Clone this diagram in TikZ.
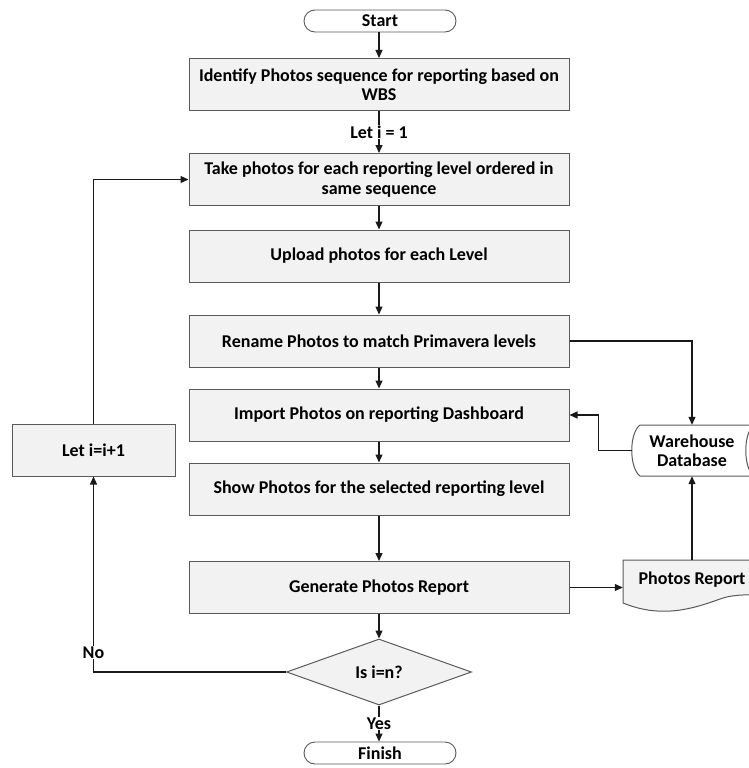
\documentclass[tikz,border=0pt]{standalone}
\usepackage{fontspec}
\setmainfont{Carlito}
\usetikzlibrary{shapes.geometric,arrows.meta}
\definecolor{boxfill}{HTML}{F2F2F2}
\definecolor{boxline}{HTML}{5A5A5A}
\tikzset{
  txt/.style={font=\fontsize{18}{19.5}\selectfont\bfseries, text=black},
  procbox/.style={txt, draw=boxline, fill=boxfill, line width=1pt, minimum width=380pt, minimum height=52pt, align=center, inner sep=2pt},
  termbox/.style={txt, draw=boxline, fill=white, line width=0.9pt, rounded corners=11pt, minimum width=152pt, minimum height=22pt, inner sep=0pt},
  decbox/.style={txt, draw=boxline, fill=boxfill, line width=1pt, shape=diamond, aspect=2.8, minimum width=185pt, minimum height=66pt, inner sep=0pt},
  arr/.style={line width=1.1pt, draw=black!90, -{Triangle[length=8pt,width=7pt]}},
  lbl/.style={txt, fill=white, inner sep=1pt},
  freetxt/.style={txt, align=center, inner sep=0pt},
}
\begin{document}
\begin{tikzpicture}[x=1pt,y=-1pt]
\useasboundingbox (0,0) rectangle (749,768);
\clip (0,0) rectangle (749,768);
% main column
\node[termbox] (start) at (380,21) {Start};
\node[procbox] (b1) at (379,84.5) {Identify Photos sequence for reporting based on\\WBS};
\node[procbox] (b2) at (379,179.5) {Take photos for each reporting level ordered in\\same sequence};
\node[procbox] (b3) at (379,256) {Upload photos for each Level};
\node[procbox] (b4) at (379,341) {Rename Photos to match Primavera levels};
\node[procbox] (b5) at (379,415) {Import Photos on reporting Dashboard};
\node[procbox] (b6) at (379,489) {Show Photos for the selected reporting level};
\node[procbox] (b7) at (379,587.5) {Generate Photos Report};
\node[decbox] (dec) at (379,672) {Is i=n?};
\node[termbox] (fin) at (380,753) {Finish};
% loop box
\node[procbox, minimum width=163pt] (inc) at (93.5,450) {Let i=i+1};
% warehouse database (stored data)
\node[freetxt, minimum width=120pt, minimum height=51pt] (wh) at (692,450.5) {};
\draw[draw=boxline, fill=white, line width=1pt]
  (640,425) .. controls (629,433) and (629,468) .. (640,476) -- (790,476) -- (790,425) -- cycle;
\draw[draw=boxline, line width=1pt]
  (754,425) .. controls (743,433) and (743,468) .. (754,476);
\node[freetxt] (whtext) at (wh) {Warehouse\\Database};
% photos report (document)
\node[freetxt, minimum width=138pt, minimum height=44pt] (rep) at (692,582) {};
\draw[draw=boxline, fill=boxfill, line width=1pt]
  (623,560) -- (790,560) -- (790,596)
  .. controls (760,596) and (740,592) .. (720,599)
  .. controls (690,610) and (660,618) .. (623,603) -- cycle;
\node[freetxt] (reptext) at (692,580) {Photos Report};
% connectors
\draw[arr] (b1.north |- start.south) -- (b1.north);
\draw[arr] (b1) -- node[lbl] {Let i = 1} (b2);
\draw[arr] (b2) -- (b3);
\draw[arr] (b3) -- (b4);
\draw[arr] (b4) -- (b5);
\draw[arr] (b5) -- (b6);
\draw[arr] (b6) -- (b7);
\draw[arr] (b7) -- (dec);
\draw[arr] (dec.south) -- node[lbl] {Yes} (dec.south |- fin.north);
\draw[arr] (dec.west) -| node[lbl, pos=0.55] {No} (inc.south);
\draw[arr] (inc.north) |- (b2.west);
\draw[arr] (b4.east) -| (wh.north);
\draw[arr] (wh.west) -- ++(-33,0) |- (b5.east);
\draw[arr] (b7.east) -- (b7.east -| rep.west);
\draw[arr] (rep.north) -- (wh.south);
\end{tikzpicture}
\end{document}
